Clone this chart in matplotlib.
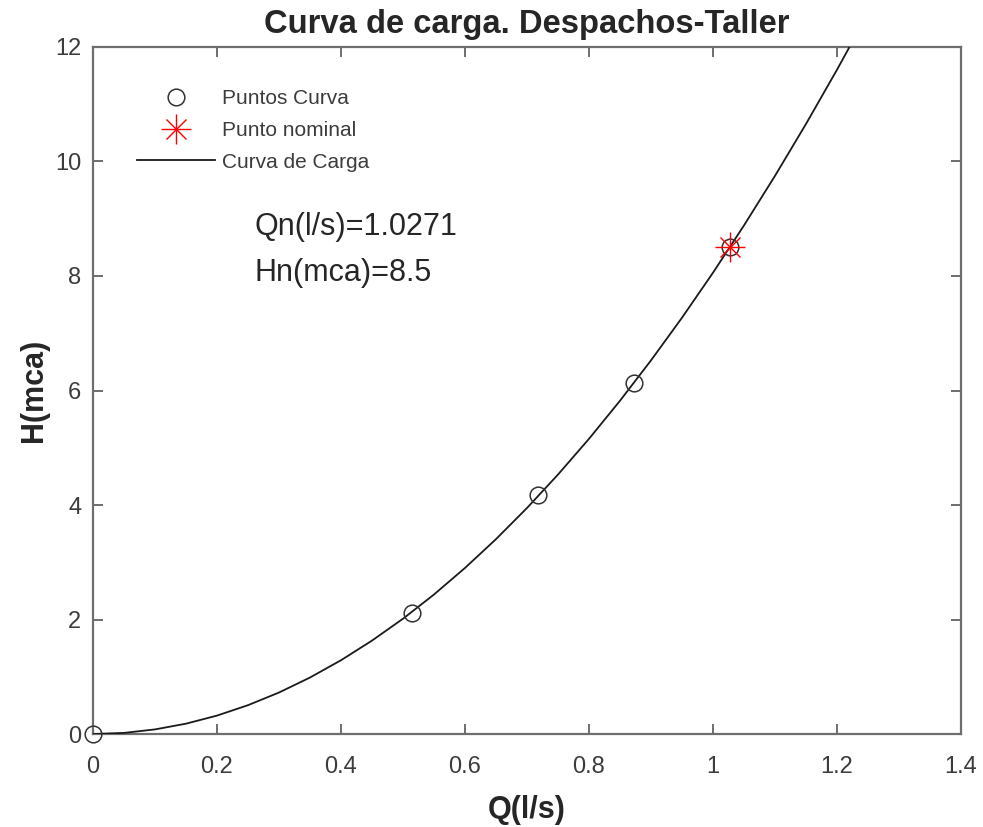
import numpy as np
import matplotlib.pyplot as plt
from matplotlib.legend_handler import HandlerTuple

# ---------------------------
# DATOS
# ---------------------------
q_puntos = [0.0, 0.515, 0.718, 0.873, 1.0271]
h_puntos = [0.0, 2.12, 4.18, 6.13, 8.5]

q_nominal = 1.0271
h_nominal = 8.5

# curva de carga
q_curva = [0.00, 0.05, 0.10, 0.15, 0.20, 0.25, 0.30, 0.35, 0.40, 0.45, 0.50,
           0.55, 0.60, 0.65, 0.70, 0.75, 0.80, 0.85, 0.90, 0.95, 1.00, 1.05,
           1.10, 1.15, 1.20, 1.25]
h_curva = [0.000, 0.020, 0.081, 0.181, 0.322, 0.504, 0.725, 0.987, 1.289,
           1.632, 2.014, 2.437, 2.901, 3.404, 3.948, 4.532, 5.156, 5.821,
           6.526, 7.271, 8.057, 8.883, 9.749, 10.655, 11.602, 12.589]

x_ticks = [0, 0.2, 0.4, 0.6, 0.8, 1, 1.2, 1.4]
x_ticklabels = ["0", "0.2", "0.4", "0.6", "0.8", "1", "1.2", "1.4"]
y_ticks = [0, 2, 4, 6, 8, 10, 12]

# ---------------------------
# GRÁFICO
# ---------------------------
plt.rcParams["font.family"] = ["Liberation Sans", "DejaVu Sans"]

fig = plt.figure(figsize=(9.83, 8.27), dpi=100)
ax = fig.add_axes([0.0946, 0.1124, 0.8830, 0.8308])

axis_color = "#6e6e6e"
text_color = "#262626"

h_pts, = ax.plot(q_puntos, h_puntos, linestyle="none", marker="o",
                 markersize=12, markerfacecolor="none",
                 markeredgecolor="#333333", markeredgewidth=1.1,
                 clip_on=False, zorder=4)
s1, = ax.plot([q_nominal], [h_nominal], linestyle="none", marker="+",
              markersize=21, markeredgecolor="red", markeredgewidth=1.0,
              zorder=5)
s2, = ax.plot([q_nominal], [h_nominal], linestyle="none", marker="x",
              markersize=15, markeredgecolor="red", markeredgewidth=1.0,
              zorder=5)
h_line, = ax.plot(q_curva, h_curva, color="#1a1a1a", linewidth=1.3, zorder=3)

ax.text(0.261, 8.86, "Qn(l/s)=1.0271", fontsize=22, color=text_color,
        va="center")
ax.text(0.261, 8.06, "Hn(mca)=8.5", fontsize=22, color=text_color,
        va="center")

ax.set_xlim(0, 1.4)
ax.set_ylim(0, 12)
ax.set_xticks(x_ticks)
ax.set_xticklabels(x_ticklabels)
ax.set_yticks(y_ticks)

ax.tick_params(direction="in", length=7, width=1.2, color="#555555",
               labelcolor="#3c3c3c", labelsize=17, top=True, right=True)
ax.tick_params(axis="x", pad=16)
ax.tick_params(axis="y", pad=8.5)
for sp in ax.spines.values():
    sp.set_color(axis_color)
    sp.set_linewidth(1.6)

ax.set_title("Curva de carga. Despachos-Taller", fontsize=23.6,
             fontweight="bold", color=text_color, pad=10)
ax.set_xlabel("Q(l/s)", fontsize=22, fontweight="bold", color=text_color)
ax.set_ylabel("H(mca)", fontsize=22, fontweight="bold", color=text_color)
ax.xaxis.set_label_coords(0.5, -0.11)
ax.xaxis.label.set_va("center")
ax.yaxis.set_label_coords(-0.068, 0.5)
ax.yaxis.label.set_va("center")

leg = ax.legend([h_pts, (s1, s2), h_line],
                ["Puntos Curva", "Punto nominal", "Curva de Carga"],
                handler_map={tuple: HandlerTuple(ndivide=1, pad=0)},
                loc="upper left", bbox_to_anchor=(0.0507, 0.939),
                frameon=False, fontsize=15, handlelength=3.75,
                handletextpad=0.35, labelspacing=0.62, borderpad=0,
                borderaxespad=0, markerscale=1.0)
for t in leg.get_texts():
    t.set_color("#3c3c3c")

plt.savefig("out.png", dpi=100)
